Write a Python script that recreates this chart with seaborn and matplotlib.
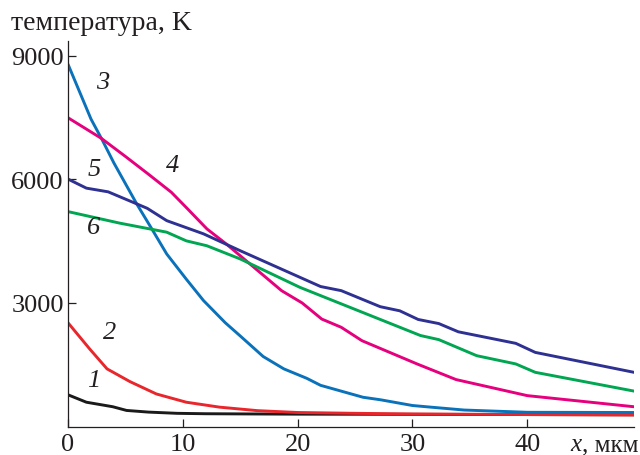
import matplotlib
matplotlib.use('Agg')
import matplotlib.pyplot as plt
import seaborn as sns
import pandas as pd

# x, мкм / temperature, K for the six curves
x1 = [0, 1.6, 3.9, 5.1, 7, 9.5, 12, 16.5, 20, 30, 40, 49.3]
t1 = [770, 590, 480, 390, 350, 320, 310, 304, 300, 295, 290, 285]

x2 = [0, 1.9, 3.4, 5.4, 7.7, 10.3, 13.2, 16.5, 20, 25, 30, 40, 49.3]
t2 = [2520, 1880, 1400, 1090, 790, 590, 470, 385, 340, 320, 305, 290, 280]

x3 = [0, 2, 3, 4, 6, 7.3, 8.6, 10.3, 11.8, 13.7, 15, 17, 18.8, 20.8, 22, 25.7,
      27.2, 30, 31.6, 34.5, 40, 49.3]
t3 = [8800, 7470, 6950, 6400, 5400, 4800, 4190, 3580, 3060, 2520, 2200, 1700,
      1400, 1170, 1000, 710, 650, 510, 470, 400, 345, 340]

x4 = [0, 2.9, 5, 7, 9, 10.3, 12.1, 13.8, 16.9, 18.6, 20.4, 22.1, 23.8, 25.6,
      30.4, 33.8, 40, 49.3]
t4 = [7500, 7000, 6560, 6130, 5690, 5320, 4800, 4430, 3700, 3300, 3000, 2610,
      2410, 2085, 1520, 1140, 750, 480]

x5 = [0, 1.6, 3.5, 6.9, 8.6, 11.8, 15, 22, 23.8, 27.2, 28.9, 30.5, 32.3, 34,
      39, 40.7, 49.3]
t5 = [6010, 5790, 5700, 5300, 5000, 4680, 4270, 3400, 3300, 2910, 2810, 2600,
      2500, 2300, 2020, 1800, 1316]

x6 = [0, 4.5, 8.6, 10.3, 12.1, 15, 20.2, 30.7, 32.3, 35.6, 39, 40.7, 49.3]
t6 = [5220, 4940, 4720, 4510, 4390, 4070, 3380, 2210, 2110, 1720, 1520, 1316, 860]

curve_names = ['1', '2', '3', '4', '5', '6']
curve_colors = ['#1a1a1a', '#e8262b', '#0a72ba', '#e6007e', '#2e3192', '#00a651']
label_pos = [(2.27, 1130), (3.66, 2295), (3.05, 8368), (9.07, 6351),
             (2.27, 6254), (2.2, 4845)]

xticks = [0, 10, 20, 30, 40]
yticks = [3000, 6000, 9000]

frames = []
for name, xs, ts in zip(curve_names, [x1, x2, x3, x4, x5, x6],
                        [t1, t2, t3, t4, t5, t6]):
    frames.append(pd.DataFrame({'x': xs, 'T': ts, 'curve': name}))
df = pd.concat(frames, ignore_index=True)

sns.set_style('ticks')
plt.rcParams['font.family'] = ['Liberation Serif', 'DejaVu Serif']

fig = plt.figure(figsize=(6.4, 4.56), dpi=100)
ax = fig.add_axes([68 / 640, 1 - 427.5 / 456, (634 - 68) / 640, (427.5 - 42) / 456])

sns.lineplot(data=df, x='x', y='T', hue='curve', palette=curve_colors,
             estimator=None, sort=False, linewidth=2.1, legend=False, ax=ax)

ax.set_xlim(0, 49.3)
ax.set_ylim(0, 9364)
ax.set_xticks(xticks)
ax.set_xticklabels([str(v) for v in xticks])
ax.set_yticks(yticks)
ax.set_xlabel('')
ax.set_ylabel('')
ax.tick_params(direction='in', length=6, width=0.9, labelsize=19, colors='#231f20')
ax.tick_params(axis='x', pad=5)
ax.tick_params(axis='y', pad=3)
sns.despine(ax=ax)
for s in ['left', 'bottom']:
    ax.spines[s].set_linewidth(0.9)
    ax.spines[s].set_color('#231f20')

for name, (lx, ly) in zip(curve_names, label_pos):
    ax.text(lx, ly, name, fontsize=19, style='italic', ha='center', va='center',
            color='#231f20')

fig.text(11 / 640, 1 - 30 / 456, 'температура, K', fontsize=20, va='baseline',
         color='#231f20')
unit = fig.text(638 / 640, 1 - 451 / 456, ', мкм', fontsize=18, ha='right',
                va='baseline', color='#231f20')
ax.annotate('x', xy=(0, 0), xycoords=unit, fontsize=18, style='italic',
            ha='right', va='bottom', color='#231f20')

fig.savefig('out.png', dpi=100)
plt.close(fig)
